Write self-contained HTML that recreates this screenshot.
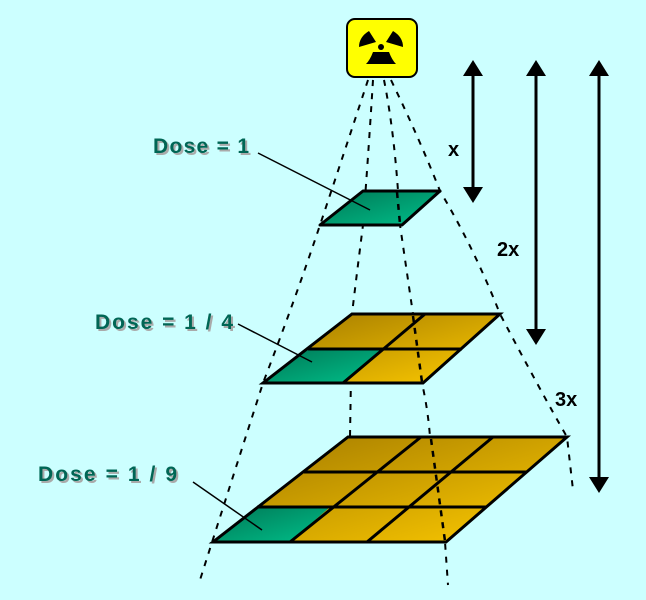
<!DOCTYPE html>
<html><head><meta charset="utf-8"><style>
html,body{margin:0;padding:0;background:#ccffff;}
svg{display:block;}
.lbl{font-family:"Liberation Sans",sans-serif;font-weight:bold;font-size:21px;}
.ax{font-family:"Liberation Sans",sans-serif;font-weight:bold;font-size:20px;fill:#000;}
</style></head><body>
<svg width="646" height="600" viewBox="0 0 646 600" xmlns="http://www.w3.org/2000/svg">
<defs>
<linearGradient id="g" x1="0" y1="0" x2="1" y2="1">
<stop offset="0" stop-color="#a07800"/><stop offset="1" stop-color="#ffcc00"/>
</linearGradient>
<linearGradient id="t" x1="0" y1="0" x2="1" y2="1">
<stop offset="0" stop-color="#007755"/><stop offset="1" stop-color="#00c08a"/>
</linearGradient>
</defs>
<rect width="646" height="600" fill="#ccffff"/>

<g fill="none" stroke="#000" stroke-width="2" stroke-dasharray="6,7">
<path d="M368,80 Q345,150 320,225 T263,383 Q235,470 200,580"/>
<path d="M373,80 Q368,160 363,225 Q356,280 352,314 L350,437"/>
<path d="M384,80 Q396,140 400,225 Q408,280 413,314 L422,383 Q428,410 430,437 L445,542 L448,585"/>
<path d="M391,80 Q420,140 440,191 Q475,250 500,314 Q540,390 567,437 L573,490"/>
</g>

<polygon points="363,191 440,191 402,225 320,225" fill="url(#t)" stroke="#000" stroke-width="3" stroke-linejoin="round"/>

<polygon points="352,314 500,314 423,383 263,383" fill="url(#g)"/>
<polygon points="308,349 383,349 343,383 263,383" fill="url(#t)"/>
<g stroke="#000" stroke-width="3" fill="none">
<polygon points="352,314 500,314 423,383 263,383"/>
<line x1="308" y1="349" x2="462" y2="349"/>
<line x1="425" y1="314" x2="343" y2="383"/>
</g>

<polygon points="348,437 567,437 446,542 213,542" fill="url(#g)"/>
<polygon points="257,507 330,507 290,542 213,542" fill="url(#t)"/>
<g stroke="#000" stroke-width="3" fill="none">
<polygon points="348,437 567,437 446,542 213,542"/>
<line x1="304" y1="472" x2="527" y2="472"/>
<line x1="257" y1="507" x2="487" y2="507"/>
<line x1="421" y1="437" x2="290" y2="542"/>
<line x1="493" y1="437" x2="367" y2="542"/>
</g>

<g fill="none" stroke="#000" stroke-width="2.5" stroke-dasharray="6,6">
<path d="M397,192 L400,224"/>
<path d="M413,316 L422,382"/>
<path d="M431,439 L445,541"/>
</g>

<g stroke="#000" stroke-width="1.5">
<line x1="258" y1="153" x2="370" y2="210"/>
<line x1="238" y1="324" x2="312" y2="362"/>
<line x1="193" y1="482" x2="262" y2="530"/>
</g>

<g class="lbl">
<text x="155" y="155" fill="#aaaaaa" textLength="96">Dose = 1</text>
<text x="153" y="153" fill="#006655" textLength="96">Dose = 1</text>
<text x="97" y="331" fill="#aaaaaa" textLength="138">Dose = 1 / 4</text>
<text x="95" y="329" fill="#006655" textLength="138">Dose = 1 / 4</text>
<text x="40" y="483" fill="#aaaaaa" textLength="139">Dose = 1 / 9</text>
<text x="38" y="481" fill="#006655" textLength="139">Dose = 1 / 9</text>
</g>

<g stroke="#000" stroke-width="3">
<line x1="473" y1="72" x2="473" y2="190"/>
<line x1="536" y1="72" x2="536" y2="332"/>
<line x1="599" y1="72" x2="599" y2="480"/>
</g>
<g fill="#000">
<polygon points="473,60 463,76 483,76"/><polygon points="473,203 463,187 483,187"/>
<polygon points="536,60 526,76 546,76"/><polygon points="536,345 526,329 546,329"/>
<polygon points="599,60 589,76 609,76"/><polygon points="599,493 589,477 609,477"/>
</g>
<text class="ax" x="448" y="156">x</text>
<text class="ax" x="497" y="256">2x</text>
<text class="ax" x="555" y="406">3x</text>

<rect x="347" y="19" width="70" height="58" rx="8" fill="#ffff00" stroke="#000" stroke-width="2"/>
<g fill="#000">
<circle cx="381" cy="47" r="3"/>
<path d="M376,42 L369,31 Q359,37 359,47 Z"/>
<path d="M386,42 L393,31 Q403,37 403,47 Z"/>
<path d="M373,52 L389,52 Q392,60 396,64 L366,64 Q370,60 373,52 Z"/>
</g>
</svg>
</body></html>
